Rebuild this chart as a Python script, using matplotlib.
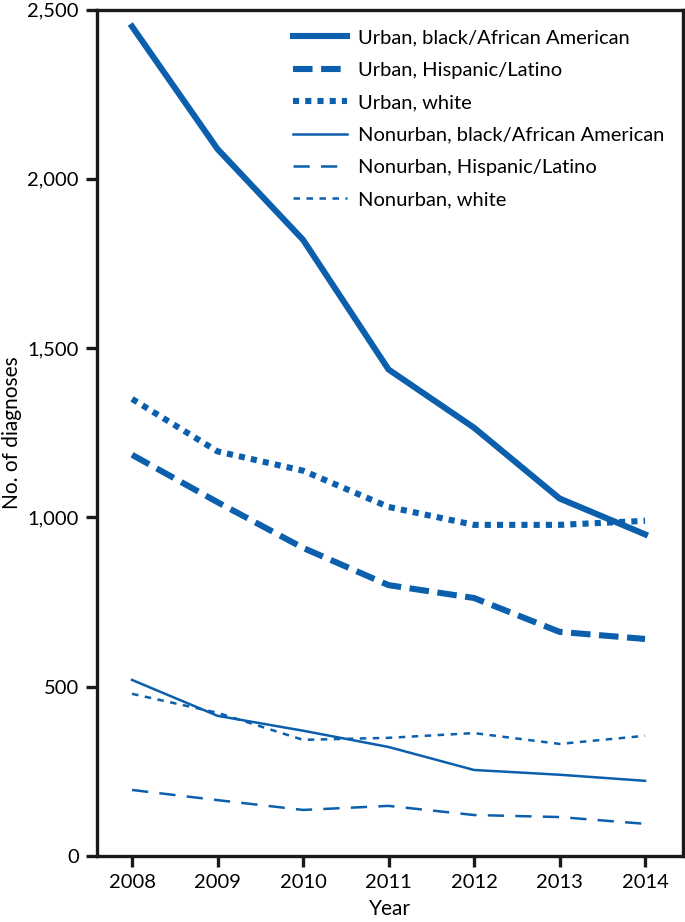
import matplotlib
matplotlib.use("Agg")
import matplotlib.pyplot as plt
from matplotlib.ticker import FuncFormatter

# data
years = [2008, 2009, 2010, 2011, 2012, 2013, 2014]
urban_black = [2450, 2088, 1820, 1437, 1265, 1056, 950]
urban_hispanic = [1185, 1045, 910, 800, 762, 662, 641]
urban_white = [1350, 1195, 1138, 1031, 978, 978, 990]
nonurban_black = [520, 414, 370, 322, 254, 240, 222]
nonurban_hispanic = [195, 165, 136, 148, 121, 115, 95]
nonurban_white = [479, 423, 343, 349, 363, 331, 355]

labels = ["Urban, black/African American", "Urban, Hispanic/Latino", "Urban, white",
          "Nonurban, black/African American", "Nonurban, Hispanic/Latino", "Nonurban, white"]

blue = "#0b5fac"
plt.rcParams['font.family'] = ['Lato', 'DejaVu Sans']

fig = plt.figure(figsize=(6.85, 9.22), dpi=100)
ax = fig.add_axes([0.1416, 0.0716, 0.855, 0.918])

thick = 4.4
thin = 1.8
series = [
    (urban_black, thick, "solid"),
    (urban_hispanic, thick, (0, (3.2, 1.4))),
    (urban_white, thick, (0, (1, 1))),
    (nonurban_black, thin, "solid"),
    (nonurban_hispanic, thin, (0, (6.5, 4.5))),
    (nonurban_white, thin, (0, (2.6, 2.6))),
]
for (vals, lw, ls), lab in zip(series, labels):
    ax.plot(years, vals, color=blue, lw=lw, linestyle=ls, label=lab,
            dash_capstyle="butt", solid_joinstyle="miter")

ax.set_xlim(2007.59, 2014.44)
ax.set_ylim(0, 2500)
ax.set_xticks(years)
ax.set_yticks([0, 500, 1000, 1500, 2000, 2500])
ax.yaxis.set_major_formatter(FuncFormatter(lambda v, p: f"{int(v):,}"))

for s in ax.spines.values():
    s.set_linewidth(2.4)
    s.set_color("#1a1a1a")
ax.tick_params(axis="both", direction="out", length=8, width=2.4, color="#1a1a1a",
               labelsize=14.5, pad=5)

ax.set_xlabel("Year", fontsize=15, labelpad=6)
ax.set_ylabel("No. of diagnoses", fontsize=15, labelpad=4)

leg = ax.legend(loc="upper right", frameon=False, handlelength=2.7, handletextpad=0.55,
                labelspacing=0.76, bbox_to_anchor=(1.0, 0.998),
                prop={'size': 14.5})

fig.savefig("out.png", dpi=100)
